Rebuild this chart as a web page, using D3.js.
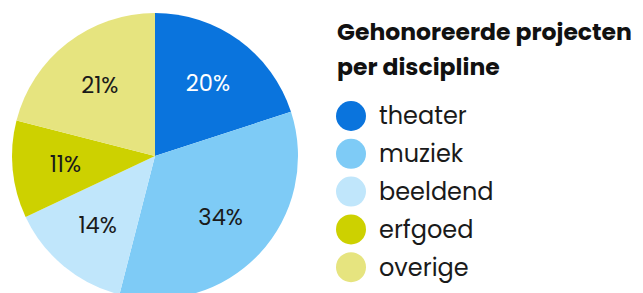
<!DOCTYPE html>
<html>
<head>
<meta charset="utf-8">
<script src="https://cdn.jsdelivr.net/npm/d3@7"></script>
<style>
  body { margin: 0; background: #fff; }
  svg { display: block; font-family: "Poppins", "Inter", "Lato", sans-serif; }
</style>
</head>
<body>
<svg width="643" height="293"></svg>
<script>
// data
const categories = ["theater", "muziek", "beeldend", "erfgoed", "overige"];
const values = [20, 34, 14, 11, 21];
const colors = ["#0a74dd", "#7ecbf6", "#c0e6fb", "#cdd100", "#e6e47f"];
const labelColors = ["#ffffff", "#1a1a1a", "#1a1a1a", "#1a1a1a", "#1a1a1a"];
const titleLines = ["Gehonoreerde projecten", "per discipline"];

const svg = d3.select("svg");
const cx = 155, cy = 156, r = 143;

const data = categories.map((c, i) => ({ name: c, value: values[i], i }));

const pie = d3.pie().sort(null).value(d => d.value);
const arc = d3.arc().innerRadius(0).outerRadius(r);
const labelArc = d3.arc().innerRadius(90).outerRadius(90);

const g = svg.append("g").attr("transform", `translate(${cx},${cy})`);
const arcs = pie(data);

g.selectAll("path")
  .data(arcs)
  .enter().append("path")
  .attr("d", arc)
  .attr("fill", d => colors[d.data.i]);

g.selectAll("text")
  .data(arcs)
  .enter().append("text")
  .attr("transform", d => "translate(" + labelArc.centroid(d) + ")")
  .attr("text-anchor", "middle")
  .attr("dy", "0.35em")
  .attr("font-size", 22.5)
  .attr("fill", d => labelColors[d.data.i])
  .text(d => d.data.value + "%");

// legend
const lg = svg.append("g");
lg.selectAll("text.title")
  .data(titleLines)
  .enter().append("text")
  .attr("class", "title")
  .attr("x", 337)
  .attr("y", (d, i) => 40 + i * 35)
  .attr("font-size", 23.5)
  .attr("font-weight", "bold")
  .attr("fill", "#111")
  .text(d => d);

const item = lg.selectAll("g.item")
  .data(data)
  .enter().append("g")
  .attr("class", "item")
  .attr("transform", (d, i) => `translate(351,${116 + i * 37.8})`);

item.append("circle").attr("r", 15).attr("fill", d => colors[d.i]);
item.append("text")
  .attr("x", 28)
  .attr("dy", "0.35em")
  .attr("font-size", 24)
  .attr("fill", "#1a1a1a")
  .text(d => d.name);
</script>
</body>
</html>
